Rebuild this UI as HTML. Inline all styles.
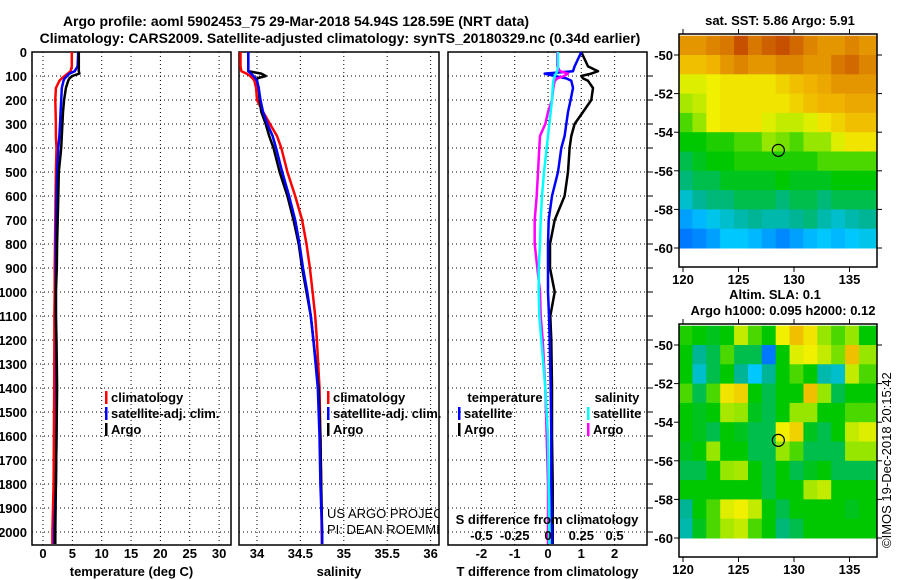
<!DOCTYPE html>
<html><head><meta charset="utf-8"><style>
html,body{margin:0;padding:0;background:#fff;}
svg{display:block;font-family:"Liberation Sans",sans-serif;}
.b{font-weight:bold;font-size:13px;}
.t{font-weight:bold;font-size:14px;}
</style></head><body>
<svg id="chart" width="900" height="580" viewBox="0 0 900 580"></svg>
<script>
// ---- data ----
const depths=[0,60,80,90,100,110,120,150,200,250,300,350,400,500,600,700,800,900,1000,1100,1200,1400,1600,1800,2000,2050];
const tempClim=[4.9,4.9,4.7,4.2,3.7,3.2,2.8,2.2,2.1,2.15,2.2,2.2,2.3,2.2,2.15,2.1,2.05,2.0,2.0,1.95,1.95,1.9,1.85,1.8,1.6,1.6];
const tempSat=[6.0,5.9,5.4,4.5,4.1,3.7,3.5,3.2,3.1,3.0,2.9,2.8,2.6,2.4,2.3,2.25,2.2,2.2,2.2,2.2,2.25,2.3,2.3,2.2,1.9,1.9];
const tempArgo=[6.1,6.1,6.1,6.2,5.0,4.5,4.3,3.9,3.6,3.4,3.3,3.2,3.1,2.7,2.6,2.5,2.4,2.35,2.2,2.2,2.3,2.4,2.3,2.2,2.1,2.1];
const salClim=[33.81,33.81,33.82,33.88,33.92,33.95,33.97,33.99,34.0,34.07,34.15,34.23,34.28,34.35,34.44,34.52,34.57,34.61,34.64,34.67,34.69,34.72,34.73,34.74,34.745,34.75];
const salSat=[33.9,33.9,33.9,33.93,33.96,33.98,34.0,34.02,34.04,34.07,34.12,34.18,34.22,34.29,34.37,34.44,34.49,34.53,34.58,34.62,34.65,34.70,34.72,34.73,34.75,34.75];
const salArgo=[33.9,33.9,33.9,34.05,34.1,34.0,34.0,34.02,34.03,34.05,34.1,34.14,34.19,34.26,34.35,34.42,34.48,34.52,34.57,34.62,34.65,34.71,34.73,34.74,34.75,34.75];
const tDiffSat=[1.0,0.8,0.75,-0.1,0.2,0.55,0.7,0.75,0.68,0.6,0.55,0.5,0.4,0.3,0.12,0.02,0,0,0,0.03,0.05,0.08,0.1,0.1,0.12,0.12];
const tDiffArgo=[1.0,1.2,1.5,1.3,1.0,1.05,1.2,1.35,1.3,1.05,0.8,0.7,0.65,0.6,0.5,0.2,0.06,0.06,0.2,0.07,0.1,0.12,0.12,0.14,0.14,0.14];
const sDiffSat=[0.075,0.075,0.07,0.06,0.05,0.045,0.04,0.035,0.03,0.02,0.01,0,-0.01,-0.03,-0.045,-0.055,-0.06,-0.07,-0.07,-0.065,-0.05,-0.02,0,0.005,0.01,0.01];
const sDiffArgo=[0.07,0.07,0.09,0.15,0.12,0.07,0.05,0.04,0.03,0,-0.02,-0.06,-0.065,-0.075,-0.085,-0.1,-0.1,-0.08,-0.06,-0.055,-0.04,-0.02,-0.01,0,0,0];
const depthTicks=[0,100,200,300,400,500,600,700,800,900,1000,1100,1200,1300,1400,1500,1600,1700,1800,1900,2000];
const tempTicks=[0,5,10,15,20,25,30];
const salTicks=[34,34.5,35,35.5,36];
const tDiffTicks=[-2,-1,0,1,2];
const sDiffTicks=[-0.5,-0.25,0,0.25,0.5];
const mapLatEdges=[-49,-50,-51,-52,-53,-54,-55,-56,-57,-58,-59,-60];
const mapLonEdges=[119.6,120.85,122.1,123.35,124.6,125.85,127.1,128.35,129.6,130.85,132.1,133.35,134.6,135.85,137.5];
const lonTicks=[120,125,130,135];
const latTicks=[-50,-52,-54,-56,-58,-60];
const sstGrid=[
[0.85,0.85,0.88,0.9,0.95,0.9,0.93,0.95,0.92,0.88,0.85,0.85,0.88,0.85],
[0.78,0.78,0.8,0.85,0.88,0.85,0.85,0.88,0.88,0.85,0.85,0.9,0.92,0.88],
[0.68,0.68,0.7,0.72,0.72,0.72,0.72,0.75,0.78,0.8,0.82,0.85,0.85,0.85],
[0.62,0.65,0.7,0.72,0.72,0.72,0.72,0.72,0.75,0.78,0.8,0.8,0.82,0.82],
[0.55,0.6,0.7,0.72,0.72,0.72,0.68,0.65,0.65,0.68,0.72,0.75,0.78,0.78],
[0.5,0.5,0.52,0.52,0.55,0.55,0.6,0.58,0.55,0.6,0.6,0.68,0.72,0.72],
[0.45,0.48,0.5,0.5,0.52,0.52,0.52,0.52,0.52,0.52,0.55,0.55,0.55,0.55],
[0.42,0.45,0.45,0.48,0.48,0.48,0.48,0.5,0.48,0.48,0.48,0.5,0.5,0.5],
[0.35,0.4,0.42,0.42,0.45,0.45,0.45,0.42,0.45,0.45,0.42,0.45,0.45,0.45],
[0.25,0.28,0.32,0.35,0.38,0.4,0.38,0.38,0.4,0.42,0.38,0.35,0.38,0.4],
[0.2,0.22,0.25,0.3,0.3,0.28,0.25,0.22,0.25,0.28,0.3,0.28,0.3,0.32]];
const slaGrid=[
[0.52,0.5,0.48,0.5,0.65,0.55,0.5,0.7,0.78,0.72,0.6,0.55,0.6,0.5],
[0.5,0.4,0.45,0.55,0.45,0.45,0.2,0.5,0.68,0.7,0.65,0.58,0.78,0.6],
[0.5,0.35,0.45,0.5,0.4,0.3,0.4,0.5,0.55,0.5,0.38,0.35,0.65,0.55],
[0.55,0.45,0.55,0.72,0.75,0.5,0.45,0.5,0.5,0.78,0.6,0.45,0.5,0.5],
[0.5,0.48,0.5,0.62,0.6,0.48,0.45,0.5,0.6,0.6,0.5,0.5,0.55,0.55],
[0.5,0.48,0.45,0.5,0.48,0.45,0.45,0.7,0.75,0.48,0.45,0.5,0.65,0.68],
[0.48,0.5,0.6,0.5,0.5,0.45,0.45,0.6,0.55,0.45,0.45,0.45,0.6,0.6],
[0.45,0.45,0.5,0.6,0.62,0.5,0.45,0.5,0.45,0.48,0.5,0.45,0.45,0.45],
[0.5,0.5,0.5,0.5,0.5,0.5,0.45,0.5,0.5,0.62,0.65,0.5,0.5,0.5],
[0.4,0.5,0.55,0.68,0.7,0.65,0.5,0.45,0.5,0.5,0.5,0.5,0.48,0.5],
[0.38,0.48,0.55,0.62,0.65,0.55,0.5,0.42,0.45,0.5,0.5,0.5,0.5,0.5]];
const argoLon=128.59, argoLat=-54.94;

// ---- drawing ----
const NS='http://www.w3.org/2000/svg';
const svg=document.getElementById('chart');
function el(tag,attrs,parent){const e=document.createElementNS(NS,tag);for(const k in attrs)e.setAttribute(k,attrs[k]);(parent||svg).appendChild(e);return e;}
function txt(s,x,y,cls,anchor,parent){const e=el('text',{x:x,y:y,'class':cls||'b','text-anchor':anchor||'middle'},parent);e.textContent=s;return e;}
const yD=d=>52+d*0.24;
const PB=545, PT=52;
const xT=t=>43+t*5.87;
const xS=s=>257+(s-34)*86.8;
const xTD=v=>548+v*33.3;
const xSD=v=>548+v*133.2;

function panel(name,x0,x1,ticks,xf,labels,title){
  const g=el('g',{});
  
  
  depthTicks.forEach(d=>{if(d>0)el('line',{x1:x0,x2:x1,y1:yD(d),y2:yD(d),stroke:'#000','stroke-dasharray':'1,3'},g);});
  ticks.forEach(t=>{el('line',{x1:xf(t),x2:xf(t),y1:PT,y2:PB,stroke:'#000','stroke-dasharray':'1,3'},g);});
  el('rect',{x:x0,y:PT,width:x1-x0,height:PB-PT,fill:'none',stroke:'#000','stroke-width':1.5},g);
  if(labels){ticks.forEach(t=>{const e=txt(String(t),xf(t),558,'b','middle',g);});}
  const tt=txt(title,(x0+x1)/2,576,'b','middle',g);
  
  
  return g;
}
function line(g,xs,xf,color,name){
  const pts=depths.map((d,i)=>xf(xs[i]).toFixed(1)+','+yD(d).toFixed(1)).join(' ');
  const p=el('polyline',{points:pts,fill:'none',stroke:color,'stroke-width':2.5,'stroke-linejoin':'round'},g);
  
  
}
function legend(g,x,y,color,label){
  el('rect',{x:x,y:y-11,width:2.5,height:13,fill:color},g);
  const e=txt(label,x+6,y,'b','start',g);
  
  
}

// titles
let e=txt('Argo profile: aoml 5902453_75 29-Mar-2018 54.94S 128.59E (NRT data)',296,26,'t');


e=txt('Climatology: CARS2009. Satellite-adjusted climatology: synTS_20180329.nc (0.34d earlier)',340,43,'t');



// depth labels
depthTicks.forEach(d=>{const t=txt(String(d),27,yD(d)+5,'b','end');});

// panel 1
const g1=panel('temperature-panel',32,231,tempTicks,xT,true,'temperature (deg C)');
line(g1,tempClim,xT,'#ff0000','temp-climatology-line');
line(g1,tempSat,xT,'#0000ff','temp-satellite-line');
line(g1,tempArgo,xT,'#000000','temp-argo-line');
legend(g1,105,402,'#ff0000','climatology');
legend(g1,105,418,'#0000ff','satellite-adj. clim.');
legend(g1,105,434,'#000000','Argo');

// panel 2
const g2=panel('salinity-panel',239,439,salTicks,xS,true,'salinity');
line(g2,salClim,xS,'#ff0000','sal-climatology-line');
line(g2,salArgo,xS,'#000000','sal-argo-line');
line(g2,salSat,xS,'#0000ff','sal-satellite-line');
legend(g2,327,402,'#ff0000','climatology');
legend(g2,327,418,'#0000ff','satellite-adj. clim.');
legend(g2,327,434,'#000000','Argo');
const cp=el('clipPath',{id:'c2'});el('rect',{x:239,y:52,width:200,height:493},cp);
const cg=el('g',{'clip-path':'url(#c2)'},g2);
e=el('text',{x:327,y:518,'font-size':'13px','text-anchor':'start'},cg);e.textContent='US ARGO PROJECT';

e=el('text',{x:327,y:534,'font-size':'13px','text-anchor':'start'},cg);e.textContent='PI: DEAN ROEMMICH';


// panel 3
const g3=panel('difference-panel',448,647,tDiffTicks,xTD,true,'T difference from climatology');
depthTicks.forEach(d=>{if(d>0)el('line',{x1:647,x2:653,y1:yD(d),y2:yD(d),stroke:'#000'},g3);});
line(g3,tDiffArgo,xTD,'#000000','tdiff-argo-line');
line(g3,tDiffSat,xTD,'#0000ff','tdiff-satellite-line');
line(g3,sDiffArgo,xSD,'#ff00ff','sdiff-argo-line');
line(g3,sDiffSat,xSD,'#00ffff','sdiff-satellite-line');
txt('temperature',505,402,'b','middle',g3);
legend(g3,458,418,'#0000ff','satellite');
legend(g3,458,434,'#000000','Argo');
txt('salinity',617,402,'b','middle',g3);
legend(g3,587,418,'#00ffff','satellite');
legend(g3,587,434,'#ff00ff','Argo');
txt('S difference from climatology',547,524,'b','middle',g3);
sDiffTicks.forEach(t=>{const s=txt(String(t),xSD(t),540,'b','middle',g3);});

// colormap
const stops=[[0,[0,0,140]],[0.15,[0,80,255]],[0.3,[0,200,255]],[0.4,[0,180,150]],[0.5,[0,200,0]],[0.6,[150,230,0]],[0.7,[240,240,0]],[0.8,[240,180,0]],[0.9,[216,120,0]],[1,[180,40,0]]];
function cmap(v){for(let i=1;i<stops.length;i++){if(v<=stops[i][0]){const a=stops[i-1],b=stops[i];const f=(v-a[0])/(b[0]-a[0]);const c=a[1].map((q,k)=>Math.round(q+(b[1][k]-q)*f));return 'rgb('+c.join(',')+')';}}return 'rgb(180,40,0)';}

function map(name,top,grid,titles){
  const fx0=679,fx1=877,fy0=top,fy1=top+233;
  const yLat=l=>fy0+21+(-50-l)*19.3;
  const xLon=l=>683+(l-120)*11.1;
  const g=el('g',{});
  
  
  grid.forEach((row,r)=>row.forEach((v,c)=>{
    const x0=Math.max(fx0,xLon(mapLonEdges[c])),x1=Math.min(fx1,xLon(mapLonEdges[c+1]));
    const y0=Math.max(fy0,yLat(mapLatEdges[r])),y1=yLat(mapLatEdges[r+1]);
    const cell=el('rect',{x:x0,y:y0,width:x1-x0+0.5,height:y1-y0+0.5,fill:cmap(v)},g);
    
    
  }));
  el('rect',{x:fx0,y:fy0,width:fx1-fx0,height:fy1-fy0,fill:'none',stroke:'#000','stroke-width':1.5},g);
  lonTicks.forEach(l=>{el('line',{x1:xLon(l),x2:xLon(l),y1:fy0,y2:fy0-5,stroke:'#000'},g);el('line',{x1:xLon(l),x2:xLon(l),y1:fy1,y2:fy1+5,stroke:'#000'},g);
    const t=txt(String(l),xLon(l),fy1+17,'b','middle',g);});
  latTicks.forEach(l=>{el('line',{x1:fx0,x2:fx0-5,y1:yLat(l),y2:yLat(l),stroke:'#000'},g);el('line',{x1:fx1,x2:fx1+5,y1:yLat(l),y2:yLat(l),stroke:'#000'},g);
    const t=txt(String(l),fx0-6,yLat(l)+5,'b','end',g);});
  const m=el('circle',{cx:xLon(argoLon),cy:yLat(argoLat),r:6,fill:'none',stroke:'#000','stroke-width':1.2},g);
  
  
  titles.forEach((s,i)=>{const t=txt(s,titles.length>1?775+i*8:780,fy0-9-(titles.length-1-i)*16,'b','middle',g);});
}
map('sst-map',34,sstGrid,['sat. SST: 5.86 Argo: 5.91']);
map('sla-map',324,slaGrid,['Altim. SLA: 0.1','Argo h1000: 0.095 h2000: 0.12']);

e=el('text',{x:0,y:0,'font-size':'13px',transform:'translate(891,548) rotate(-90)','text-anchor':'start'});
e.textContent='©IMOS 19-Dec-2018 20:15:42';


</script>
</body></html>
